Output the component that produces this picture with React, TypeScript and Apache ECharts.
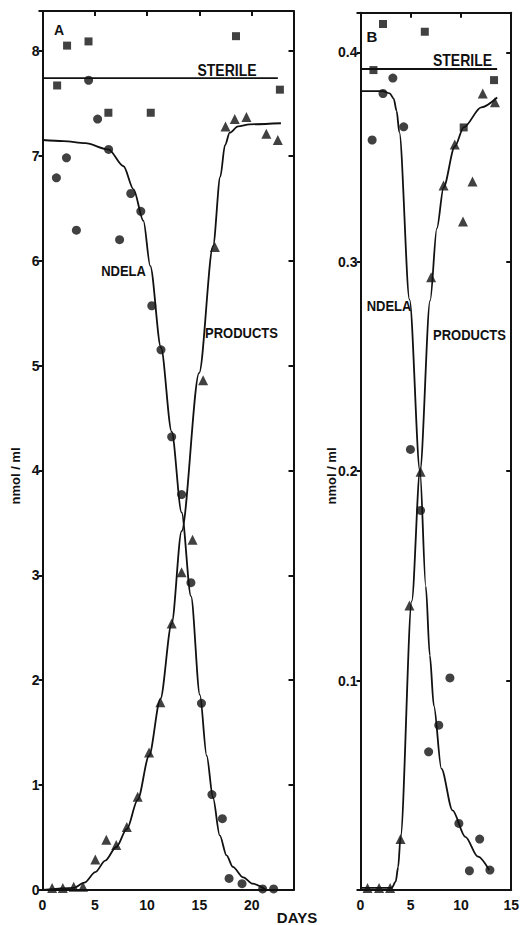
import React, { useEffect, useRef } from 'react';
import * as echarts from 'echarts';

// ---------- Panel A (days 0-24, nmol/ml 0-8.4) ----------
const sterileA: number[][] = [[1.4, 7.67], [2.35, 8.05], [4.4, 8.09], [6.3, 7.41], [10.35, 7.41], [18.5, 8.14], [22.7, 7.63]];
const sterileLineA: number[][] = [[0, 7.74], [22.5, 7.74]];
const ndelaA: number[][] = [[1.33, 6.79], [2.29, 6.98], [3.24, 6.29], [4.41, 7.72], [5.27, 7.35], [6.32, 7.06], [7.37, 6.2], [8.44, 6.64], [9.4, 6.47], [10.45, 5.57], [11.33, 5.15], [12.35, 4.32], [13.3, 3.77], [14.19, 2.93], [15.2, 1.78], [16.2, 0.91], [17.2, 0.68], [17.84, 0.11], [19.08, 0.06], [21.05, 0.01], [22.1, 0.01]];
const productsA: number[][] = [[0.92, 0.02], [1.94, 0.02], [2.98, 0.03], [3.87, 0.03], [5.05, 0.29], [6.1, 0.48], [7.05, 0.43], [8.06, 0.6], [9.1, 0.89], [10.19, 1.31], [11.27, 1.79], [12.35, 2.54], [13.3, 3.03], [14.35, 3.34], [15.36, 4.86], [16.48, 6.13], [17.5, 7.28], [18.38, 7.35], [19.5, 7.37], [21.4, 7.21], [22.5, 7.15]];
const ndelaCurveA: number[][] = [[0, 7.15], [2, 7.14], [4.1, 7.12], [6.3, 7.06], [7.75, 6.9], [8.7, 6.68], [9.65, 6.38], [10.3, 5.95], [11.33, 5.17], [12.35, 4.37], [13.3, 3.6], [14.2, 2.8], [15.05, 1.86], [15.7, 1.28], [16.3, 0.88], [16.95, 0.52], [17.6, 0.33], [18.2, 0.22], [19.2, 0.12], [20.1, 0.06], [21.4, 0]];
const productsCurveA: number[][] = [[0, 0], [3, 0.02], [4, 0.07], [5.05, 0.17], [6, 0.28], [7.05, 0.41], [8.06, 0.58], [9.1, 0.86], [10.19, 1.28], [11.27, 1.82], [12.35, 2.54], [13.3, 3.42], [14.98, 4.93], [16.31, 6.14], [17.0, 6.8], [17.45, 7.1], [17.9, 7.22], [18.7, 7.28], [19.8, 7.3], [22.8, 7.31]];

// ---------- Panel B (days 0-15, nmol/ml 0-0.42) ----------
const sterileB: number[][] = [[1.29, 0.3916], [2.24, 0.4136], [6.4, 0.4099], [10.27, 0.3642], [13.29, 0.3868]];
const sterileLineB: number[][] = [[0, 0.3921], [13.6, 0.3921]];
const ndelaB: number[][] = [[1.16, 0.3582], [2.24, 0.3804], [3.22, 0.3878], [4.3, 0.3645], [4.97, 0.2104], [5.98, 0.1813], [6.78, 0.066], [7.79, 0.0787], [8.9, 0.1013], [9.79, 0.0318], [10.84, 0.0092], [11.86, 0.0243], [12.88, 0.0095]];
const productsB: number[][] = [[0.7, 0.001], [1.85, 0.001], [2.95, 0.001], [3.98, 0.0243], [4.87, 0.1359], [5.98, 0.1997], [7.03, 0.2927], [8.27, 0.3365], [9.38, 0.356], [10.2, 0.3193], [11.15, 0.3384], [12.17, 0.3804], [13.38, 0.3762]];
const ndelaCurveB: number[][] = [[0, 0.3815], [2.2, 0.3815], [2.9, 0.3805], [3.3, 0.378], [3.6, 0.372], [3.86, 0.362], [4.88, 0.282], [5.92, 0.2], [6.5, 0.145], [6.9, 0.112], [7.3, 0.088], [8.05, 0.058], [9.16, 0.038], [10.43, 0.0254], [11.7, 0.0159], [12.8, 0.0095]];
const productsCurveB: number[][] = [[0, 0.001], [3.1, 0.001], [3.5, 0.004], [3.75, 0.011], [3.98, 0.025], [5.1, 0.138], [5.92, 0.2], [6.93, 0.2815], [7.6, 0.316], [8.27, 0.3356], [9.38, 0.355], [10.27, 0.3642], [12.02, 0.3738], [13.6, 0.3785]];

const xTicksA = [0, 5, 10, 15, 20];
const xTicksB = [0, 5, 10, 15];
const yTicksA = [0, 1, 2, 3, 4, 5, 6, 7, 8];
const yTicksB = [0.1, 0.2, 0.3, 0.4];

const INK = '#111';
const FONT = '"Liberation Sans", Arial, sans-serif';

function fmtFrom(list: number[], digits: number) {
  return (v: number) => {
    const hit = list.find((t) => Math.abs(t - v) < 1e-6);
    return hit === undefined ? '' : hit.toFixed(digits);
  };
}

const lineStyle = { color: INK, width: 2 };
const labelStyle = { color: INK, fontSize: 14, fontWeight: 'bold' as const, fontFamily: FONT };

function xPair(grid: number, max: number, ticks: number[]) {
  return [
    {
      type: 'value', gridIndex: grid, min: 0, max, interval: 5, position: 'bottom',
      axisLine: { show: true, onZero: false, lineStyle },
      axisTick: { show: false },
      splitLine: { show: false },
      axisLabel: { ...labelStyle, margin: 8, formatter: fmtFrom(ticks, 0) },
    },
    {
      type: 'value', gridIndex: grid, min: 0, max, interval: 5, position: 'top',
      axisLine: { show: true, onZero: false, lineStyle },
      axisTick: { show: true, inside: true, length: 5, lineStyle: { color: INK, width: 2 } },
      splitLine: { show: false },
      axisLabel: { show: false },
    },
  ];
}

function yPair(grid: number, max: number, interval: number, ticks: number[], digits: number) {
  return [
    {
      type: 'value', gridIndex: grid, min: 0, max, interval, position: 'left',
      axisLine: { show: true, onZero: false, lineStyle },
      axisTick: { show: true, inside: false, length: 4, lineStyle: { color: INK, width: 2 } },
      splitLine: { show: false },
      axisLabel: { ...labelStyle, margin: 3, formatter: fmtFrom(ticks, digits) },
    },
    {
      type: 'value', gridIndex: grid, min: 0, max, interval, position: 'right',
      axisLine: { show: true, onZero: false, lineStyle },
      axisTick: { show: true, inside: true, length: 5, lineStyle: { color: INK, width: 2 } },
      splitLine: { show: false },
      axisLabel: { show: false },
    },
  ];
}

function curve(idx: number, data: number[][]) {
  return {
    type: 'line', xAxisIndex: idx, yAxisIndex: idx, data,
    showSymbol: false, symbol: 'none', smooth: 0.3, smoothMonotone: 'x',
    lineStyle: { color: INK, width: 1.8 }, silent: true, z: 2,
  };
}

function straight(idx: number, data: number[][]) {
  return {
    type: 'line', xAxisIndex: idx, yAxisIndex: idx, data,
    showSymbol: false, symbol: 'none',
    lineStyle: { color: INK, width: 1.8 }, silent: true, z: 2,
  };
}

function dots(idx: number, data: number[][], symbol: string, size: number) {
  return {
    type: 'scatter', xAxisIndex: idx, yAxisIndex: idx, data, symbol, symbolSize: size,
    itemStyle: { color: INK }, clip: false, silent: true, z: 3,
  };
}

function txt(text: string, x: number, y: number, size: number, opts: any = {}) {
  return {
    type: 'text', x, y, rotation: opts.rotation || 0, scaleY: opts.scaleY || 1,
    style: {
      text, fill: INK, fontSize: size, fontWeight: opts.weight || 'bold', fontFamily: FONT,
      align: opts.align || 'center', verticalAlign: 'middle',
    },
    silent: true, z: 10,
  };
}

export default function App() {
  const ref = useRef<HTMLDivElement>(null);
  useEffect(() => {
    if (!ref.current) return;
    const chart = echarts.init(ref.current, null, { renderer: 'svg' });
    chart.setOption({
      animation: false,
      backgroundColor: '#ffffff',
      grid: [
        { left: 42.5, top: 11, width: 251, height: 879 },
        { left: 360.5, top: 12.7, width: 157.5, height: 877.3 },
      ],
      xAxis: [...xPair(0, 24, xTicksA), ...xPair(1, 15, xTicksB)],
      yAxis: [...yPair(0, 8.38, 1, yTicksA, 0), ...yPair(1, 0.419, 0.1, yTicksB, 1)],
      series: [
        straight(0, sterileLineA),
        curve(0, ndelaCurveA),
        curve(0, productsCurveA),
        dots(0, sterileA, 'rect', 8),
        dots(0, ndelaA, 'circle', 9),
        dots(0, productsA, 'triangle', 10),
        straight(2, sterileLineB),
        curve(2, ndelaCurveB),
        curve(2, productsCurveB),
        dots(2, sterileB, 'rect', 8),
        dots(2, ndelaB, 'circle', 9),
        dots(2, productsB, 'triangle', 10),
      ],
      graphic: [
        txt('A', 59, 30, 14),
        txt('B', 372, 36, 15),
        txt('STERILE', 227, 70, 14, { scaleY: 1.15 }),
        txt('STERILE', 462.5, 60.5, 14, { scaleY: 1.15 }),
        txt('NDELA', 123.5, 270.5, 13, { scaleY: 1.15 }),
        txt('NDELA', 389, 306, 13, { scaleY: 1.15 }),
        txt('PRODUCTS', 205, 333, 13, { align: 'left', scaleY: 1.15 }),
        txt('PRODUCTS', 433, 335, 13, { align: 'left', scaleY: 1.15 }),
        txt('nmol / ml', 15, 476, 13, { rotation: Math.PI / 2 }),
        txt('nmol / ml', 331.7, 476, 13, { rotation: Math.PI / 2 }),
        txt('DAYS', 297, 917, 15),
      ],
    });
    return () => chart.dispose();
  }, []);
  return (
    <div
      ref={ref}
      style={{ position: 'fixed', left: 0, top: 0, width: 522, height: 925, background: '#fff' }}
    />
  );
}
